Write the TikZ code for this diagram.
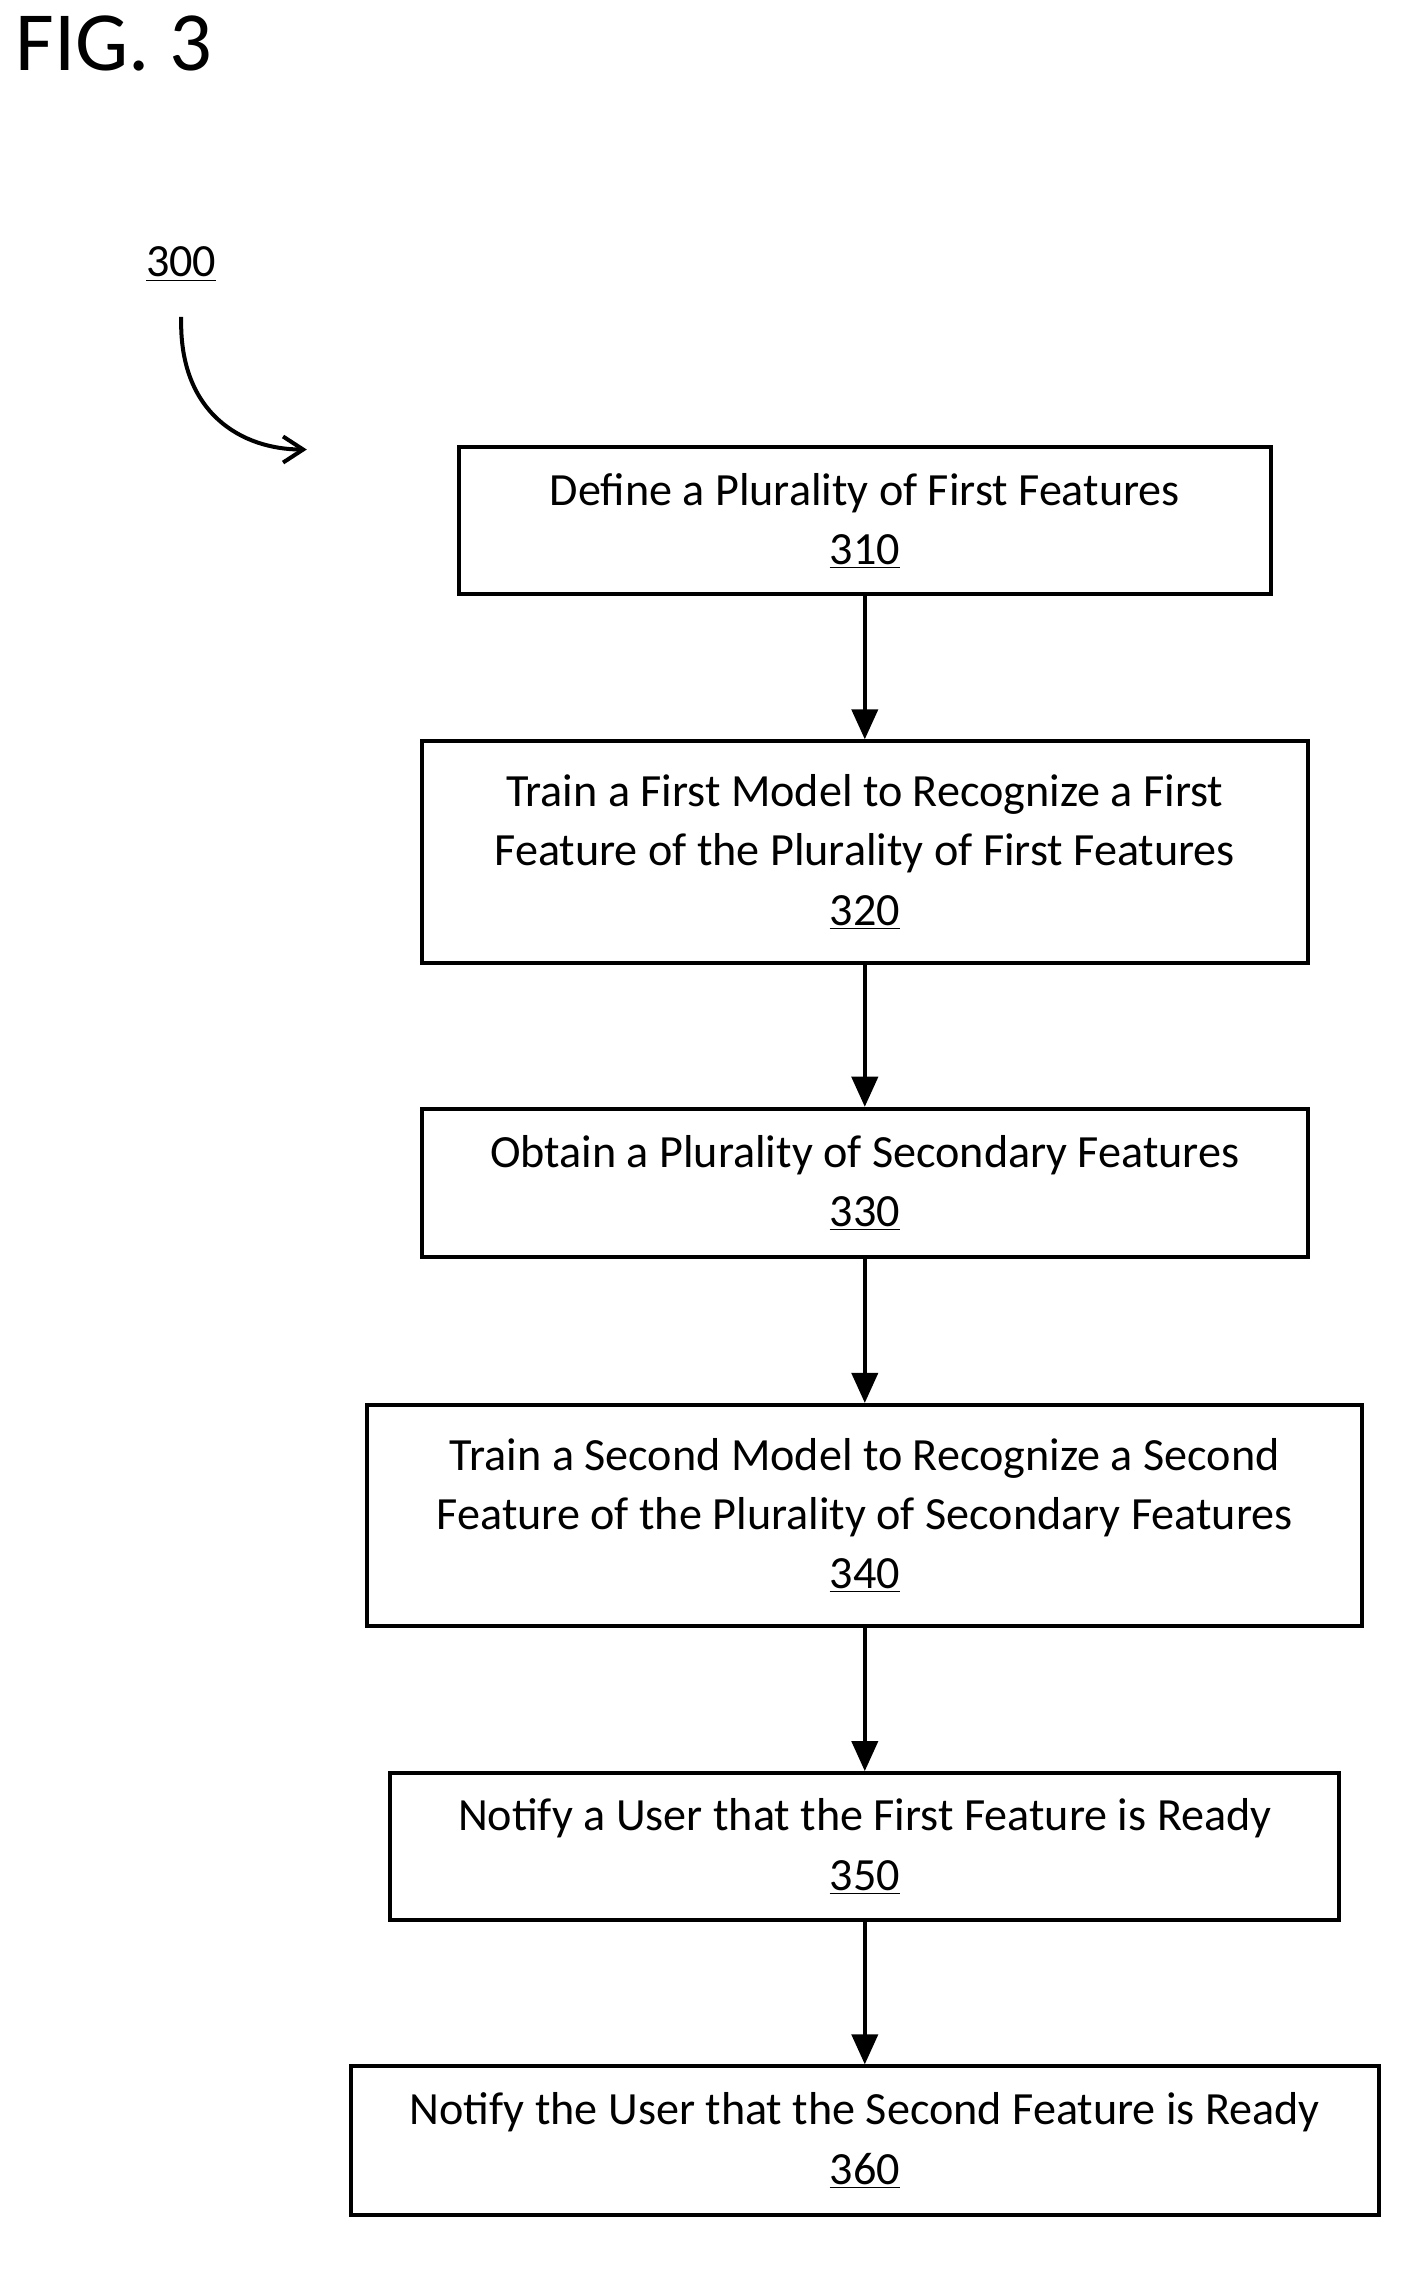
\documentclass[tikz,border=0pt]{standalone}
\usepackage{fontspec}
\setmainfont{Carlito}
\usetikzlibrary{positioning,arrows.meta}
\begin{document}
\begin{tikzpicture}[x=0.025cm,y=-0.025cm,
  stepbox/.style={draw, line width=2pt, align=center, inner sep=0pt,
    font=\fontsize{23}{29.5}\selectfont},
  flow/.style={line width=2pt, -{Triangle[length=15pt,width=13pt]}}]
\useasboundingbox (0,0) rectangle (1000,1597);
% figure label
\node[anchor=north west, font=\fontsize{42}{44}\selectfont] (fig) at (6,6) {FIG. 3};
\node[font=\fontsize{23}{25}\selectfont] (ref) at (127,185) {\underline{300}};
\coordinate (refend) at (215,315);
\draw[line width=2pt, -{Straight Barb[length=10pt,width=13pt]}] (127,222) .. controls (125,290) and (170,315) .. (refend);
% steps
\node[stepbox, minimum width=569*0.025cm, minimum height=103*0.025cm] (s310) at (606,365) {Define a Plurality of First Features\\\underline{310}};
\node[stepbox, minimum width=621*0.025cm, minimum height=155*0.025cm] (s320) at (606,597) {Train a First Model to Recognize a First\\Feature of the Plurality of First Features\\\underline{320}};
\node[stepbox, minimum width=621*0.025cm, minimum height=104*0.025cm] (s330) at (606,829) {Obtain a Plurality of Secondary Features\\\underline{330}};
\node[stepbox, minimum width=697*0.025cm, minimum height=155*0.025cm] (s340) at (606,1062) {Train a Second Model to Recognize a Second\\Feature of the Plurality of Secondary Features\\\underline{340}};
\node[stepbox, minimum width=665*0.025cm, minimum height=103*0.025cm] (s350) at (606,1294) {Notify a User that the First Feature is Ready\\\underline{350}};
\node[stepbox, minimum width=720*0.025cm, minimum height=104*0.025cm] (s360) at (606,1500) {Notify the User that the Second Feature is Ready\\\underline{360}};
% connectors
\draw[flow] (s310) -- (s320);
\draw[flow] (s320) -- (s330);
\draw[flow] (s330) -- (s340);
\draw[flow] (s340) -- (s350);
\draw[flow] (s350) -- (s360);
\end{tikzpicture}
\end{document}
